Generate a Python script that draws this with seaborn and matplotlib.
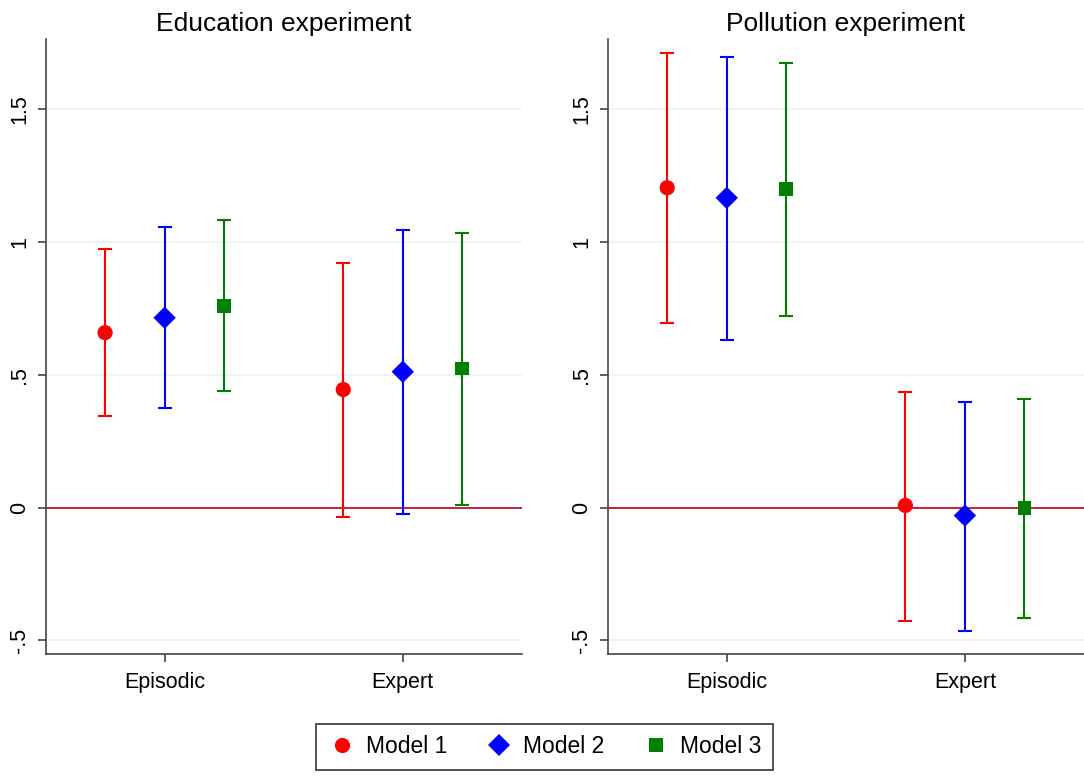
import numpy as np
import pandas as pd
import matplotlib
matplotlib.use("Agg")
import matplotlib.pyplot as plt
import seaborn as sns

# Data
experiments = ["Education experiment", "Pollution experiment"]
categories = ["Episodic", "Expert"]
models = ["Model 1", "Model 2", "Model 3"]

# estimates per experiment: [Episodic, Expert] for each model
edu_est = {"Model 1": [0.658, 0.444], "Model 2": [0.714, 0.511], "Model 3": [0.759, 0.523]}
edu_lo = {"Model 1": [0.346, -0.034], "Model 2": [0.376, -0.023], "Model 3": [0.440, 0.011]}
edu_hi = {"Model 1": [0.974, 0.921], "Model 2": [1.056, 1.045], "Model 3": [1.083, 1.034]}

pol_est = {"Model 1": [1.203, 0.008], "Model 2": [1.165, -0.030], "Model 3": [1.199, 0.000]}
pol_lo = {"Model 1": [0.695, -0.425], "Model 2": [0.632, -0.466], "Model 3": [0.722, -0.417]}
pol_hi = {"Model 1": [1.711, 0.436], "Model 2": [1.695, 0.398], "Model 3": [1.673, 0.410]}

yticks = [-0.5, 0, 0.5, 1, 1.5]
ytick_labels = ["-.5", "0", ".5", "1", "1.5"]

colors = {"Model 1": "#ff0000", "Model 2": "#0000ff", "Model 3": "#008000"}
markers = {"Model 1": "o", "Model 2": "D", "Model 3": "s"}
sizes = {"Model 1": 120, "Model 2": 130, "Model 3": 100}
offsets = {"Model 1": -0.25, "Model 2": 0.0, "Model 3": 0.25}

rows = []
for exp, est, lo, hi in [(experiments[0], edu_est, edu_lo, edu_hi),
                         (experiments[1], pol_est, pol_lo, pol_hi)]:
    for m in models:
        for i, c in enumerate(categories):
            rows.append(dict(experiment=exp, model=m, category=c,
                             pos=i + 1 + offsets[m],
                             est=est[m][i], lo=lo[m][i], hi=hi[m][i]))
df = pd.DataFrame(rows)

sns.set_theme(style="white")
plt.rcParams["font.family"] = ["Liberation Sans", "DejaVu Sans"]
plt.rcParams["text.color"] = "black"
plt.rcParams["xtick.color"] = "black"
plt.rcParams["ytick.color"] = "black"

fig, axes = plt.subplots(1, 2, figsize=(10.84, 7.78), dpi=100)
fig.subplots_adjust(left=0.042, right=1.0, top=0.95, bottom=0.16, wspace=0.18)

for ax, exp in zip(axes, experiments):
    sub = df[df.experiment == exp]
    for y in yticks:
        ax.axhline(y, color="#eaf2f3", lw=1.2, zorder=0)
    ax.axhline(0, color="#c8102e", lw=1.3, zorder=1)
    for m in models:
        s = sub[sub.model == m]
        ax.errorbar(s.pos, s.est, yerr=[s.est - s.lo, s.hi - s.est], fmt="none",
                    ecolor=colors[m], elinewidth=1.5, capsize=5, capthick=1.5, zorder=2)
    sns.scatterplot(data=sub, x="pos", y="est", hue="model", style="model",
                    palette=colors, markers=markers, size="model", sizes=sizes,
                    edgecolor="none", linewidth=0, ax=ax, legend=(exp == experiments[0]),
                    zorder=3)
    ax.set_xlim(0.5, 2.5)
    ax.set_ylim(-0.549, 1.763)
    ax.set_xticks([1, 2])
    ax.set_xticklabels(categories, fontsize=15.5, color="black")
    ax.set_yticks(yticks)
    ax.set_yticklabels(ytick_labels, fontsize=15.5, rotation=90, va="center", color="black")
    ax.set_xlabel("")
    ax.set_ylabel("")
    ax.set_title(exp, fontsize=19, pad=6, color="black")
    ax.tick_params(axis="both", bottom=True, left=True, length=6, width=1.2,
                   color="#444444", pad=5)
    ax.tick_params(axis="x", pad=7)
    for side in ["top", "right"]:
        ax.spines[side].set_visible(False)
    for side in ["left", "bottom"]:
        ax.spines[side].set_color("#444444")
        ax.spines[side].set_linewidth(1.2)

handles, labels = axes[0].get_legend_handles_labels()
axes[0].get_legend().remove()
leg = fig.legend(handles, labels, loc="lower center", ncol=3, fontsize=16.5,
                 bbox_to_anchor=(0.502, -0.004), frameon=True, fancybox=False,
                 edgecolor="black", columnspacing=1.6, handletextpad=0.4,
                 handlelength=1.3, markerscale=1.0, borderpad=0.5)
leg.get_frame().set_linewidth(1.2)
for t in leg.get_texts():
    t.set_color("black")

fig.savefig("out.png", dpi=100)
